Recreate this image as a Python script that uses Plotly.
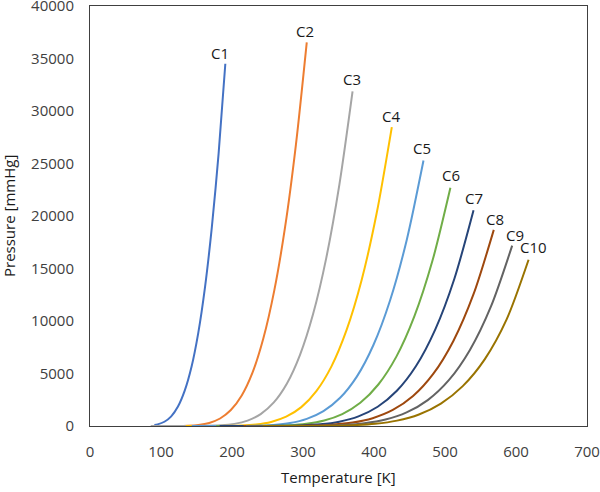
import plotly.graph_objects as go

names = ["C1", "C2", "C3", "C4", "C5", "C6", "C7", "C8", "C9", "C10"]
colors = ["#4472C4", "#ED7D31", "#A5A5A5", "#FFC000", "#5B9BD5",
          "#70AD47", "#264478", "#9E480E", "#636363", "#997300"]

C1_T = [90.7, 95.3, 104.8, 114.4, 123.9, 133.4, 143.0, 152.5, 162.0, 171.5, 181.1, 190.6]
C1_P = [87, 151, 405, 923, 1851, 3364, 5641, 8873, 13231, 18865, 25916, 34500]

C2_T = [90.4, 122.1, 137.4, 152.7, 167.9, 183.2, 198.4, 213.7, 229.0, 244.2, 259.5, 274.8, 290.0, 305.3]
C2_P = [0, 5, 27, 100, 292, 714, 1521, 2910, 5105, 8353, 12891, 18957, 26780, 36540]

C3_T = [85.5, 147.9, 184.9, 203.4, 221.9, 240.4, 258.9, 277.4, 295.8, 314.3, 332.8, 351.3, 369.8]
C3_P = [0, 3, 65, 201, 514, 1137, 2245, 4049, 6780, 10686, 16016, 23010, 31860]

C4_T = [134.9, 170.0, 212.6, 233.8, 255.1, 276.3, 297.6, 318.8, 340.1, 361.3, 382.6, 403.8, 425.1]
C4_P = [0, 2, 45, 146, 387, 885, 1796, 3320, 5680, 9124, 13908, 20279, 28470]

C5_T = [143.4, 187.9, 234.9, 258.3, 281.8, 305.3, 328.8, 352.3, 375.8, 399.2, 422.7, 446.2, 469.7]
C5_P = [0, 1, 30, 103, 285, 676, 1415, 2687, 4705, 7713, 11975, 17745, 25280]

C6_T = [177.8, 203.0, 253.8, 279.2, 304.6, 329.9, 355.3, 380.7, 406.1, 431.5, 456.8, 482.2, 507.6]
C6_P = [0, 1, 21, 74, 215, 526, 1134, 2207, 3952, 6608, 10437, 15706, 22690]

C7_T = [182.6, 216.1, 270.1, 297.1, 324.1, 351.1, 378.1, 405.2, 432.2, 459.2, 486.2, 513.2, 540.2]
C7_P = [0, 0, 15, 54, 163, 414, 918, 1832, 3352, 5713, 9180, 14027, 20550]

C8_T = [216.4, 284.4, 312.8, 341.2, 369.7, 398.1, 426.5, 455.0, 483.4, 511.8, 540.3, 568.7]
C8_P = [0, 10, 40, 125, 326, 746, 1525, 2854, 4959, 8103, 12575, 18680]

C9_T = [219.7, 297.3, 327.0, 356.8, 386.5, 416.2, 445.9, 475.7, 505.4, 535.1, 564.9, 594.6]
C9_P = [0, 7, 30, 97, 263, 617, 1291, 2467, 4365, 7248, 11416, 17180]

C10_T = [243.5, 308.9, 339.7, 370.6, 401.5, 432.4, 463.3, 494.2, 525.0, 555.9, 586.8, 617.7]
C10_P = [0, 5, 23, 76, 212, 512, 1098, 2139, 3800, 6350, 10150, 15830]

temps = [C1_T, C2_T, C3_T, C4_T, C5_T, C6_T, C7_T, C8_T, C9_T, C10_T]
pressures = [C1_P, C2_P, C3_P, C4_P, C5_P, C6_P, C7_P, C8_P, C9_P, C10_P]

label_dx = [-5, -2, -1, -1, -1, 1, 0, 1, 3, 5]
label_dy = [11, 11, 12, 11, 13, 13, 12, 11, 11, 13]

x_ticks = [0, 100, 200, 300, 400, 500, 600, 700]
y_ticks = [0, 5000, 10000, 15000, 20000, 25000, 30000, 35000, 40000]

FONT = "Open Sans"

fig = go.Figure()
for name, col, T, P in zip(names, colors, temps, pressures):
    fig.add_trace(go.Scatter(x=T, y=P, mode="lines", name=name,
                             line=dict(color=col, width=2, shape="spline", smoothing=0.8),
                             showlegend=False, cliponaxis=False))

for name, T, P, dx, dy in zip(names, temps, pressures, label_dx, label_dy):
    fig.add_annotation(x=T[-1], y=P[-1], text=name, showarrow=False,
                       xshift=dx, yshift=dy, xanchor="center", yanchor="middle",
                       font=dict(family=FONT, size=15, color="#1a1a1a"))

fig.add_annotation(x=0.5, y=0, xref="paper", yref="paper", text="Temperature [K]",
                   showarrow=False, yshift=-51, xanchor="center", yanchor="middle",
                   font=dict(family=FONT, size=15, color="#1a1a1a"))
fig.add_annotation(x=0, y=0.5, xref="paper", yref="paper", text="Pressure [mmHg]",
                   showarrow=False, xshift=-81, textangle=-90, xanchor="center", yanchor="middle",
                   font=dict(family=FONT, size=15, color="#1a1a1a"))

axis_common = dict(showgrid=False, zeroline=False, showline=True, mirror=True,
                   linecolor="#404040", linewidth=1, ticks="", automargin=False,
                   tickfont=dict(family=FONT, size=15, color="#404040"),
                   ticklabelstandoff=12, ticklabeloverflow="allow")

fig.update_xaxes(range=[0, 700], tickvals=x_ticks, ticktext=[str(v) for v in x_ticks], **axis_common)
fig.update_yaxes(range=[0, 40000], tickvals=y_ticks, ticktext=[str(v) for v in y_ticks], **axis_common)

fig.update_layout(width=600, height=492, margin=dict(l=90, r=13, t=6, b=66),
                  paper_bgcolor="white", plot_bgcolor="white",
                  font=dict(family=FONT))

fig.write_html("out.html", config={"displayModeBar": False},
               post_script="document.body.style.margin='0';document.body.style.overflow='hidden';")
